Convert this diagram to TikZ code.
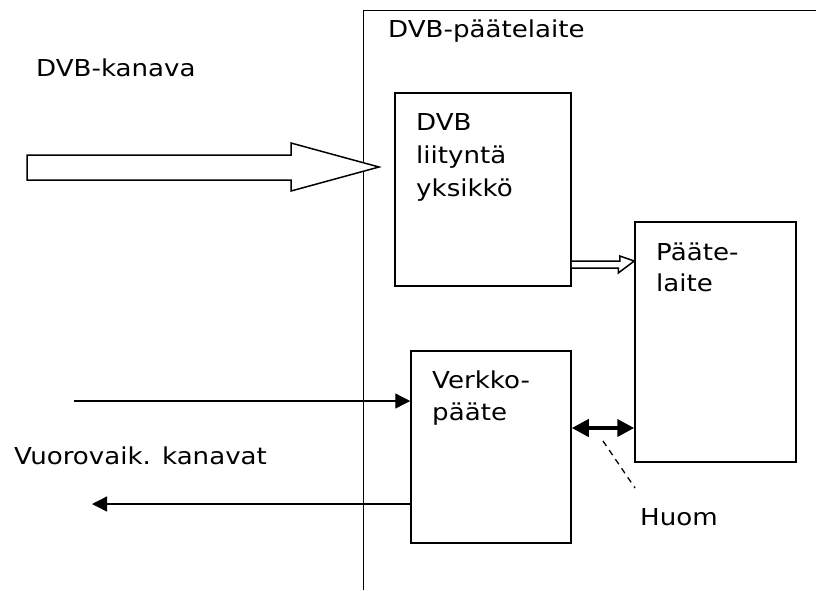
\documentclass[tikz,border=0pt]{standalone}
\usepackage{fontspec}
\setmainfont{DejaVu Sans}[FakeStretch=1.12]
\usetikzlibrary{arrows.meta,calc}
\begin{document}
\begin{tikzpicture}[x=1pt,y=-1pt,
  box/.style={draw,line width=1.5pt,rectangle,inner sep=0pt},
  txt/.style={anchor=base west,inner sep=0pt,font=\fontsize{23.3}{28}\selectfont},
  hollow/.style={draw,line width=1.5pt,fill=white,line join=miter},
  thin/.style={line width=1.3pt},
  tip/.style={-{Triangle[length=15pt,width=15pt]}},
  dbltip/.style={line width=4pt,{Triangle[length=17pt,width=17pt]}-{Triangle[length=17pt,width=17pt]}},
  note/.style={line width=1.3pt,dash pattern=on 6pt off 5pt}]
\useasboundingbox (0,0) rectangle (816,590);

% outer terminal frame (continues past the page edges)
\coordinate (frameB) at (363,590);
\coordinate (frameTL) at (363,10);
\coordinate (frameTR) at (816,10);
\draw[line width=1pt] (frameB) -- (frameTL) -- (frameTR);
\node[txt] (frametitle) at (388,37) {DVB-päätelaite};

% blocks
\node[box,minimum width=176pt,minimum height=193pt] (dvb) at (483,189.5) {};
\node[box,minimum width=161pt,minimum height=240pt] (term) at (715.5,342) {};
\node[box,minimum width=160pt,minimum height=192pt] (net) at (491,447) {};

\node[txt] (dvbA) at (416,130) {DVB};
\node[txt] (dvbB) at (416,163) {liityntä};
\node[txt] (dvbC) at (416,196) {yksikkö};
\node[txt] (termA) at (656,260) {Pääte-};
\node[txt] (termB) at (656,291) {laite};
\node[txt] (netA) at (432,388) {Verkko-};
\node[txt] (netB) at (432,420) {pääte};

% broadcast channel
\node[txt] (chan) at (36,76) {DVB-kanava};
\draw[hollow] (27,155) -- (291,155) -- (291,143) -- (379,167) -- (291,191)
  -- (291,180) -- (27,180) -- cycle;

% data from the DVB interface unit to the terminal
\draw[hollow] ($(dvb.east|-term.west)+(0,-81)$) -- ++(48,0) -- ++(0,-5)
  -- ($(term.west)+(0,-81)$) -- ++(-16,12) -- ++(0,-5) -- ($(dvb.east|-term.west)+(0,-74)$);

% interaction channels
\node[txt] (ichan) at (14,464) {Vuorovaik. kanavat};
\coordinate (inS) at (74,401);
\draw[thin,tip] (inS) -- (inS -| net.west);
\coordinate (outE) at (92,504);
\draw[thin,tip] (outE -| net.west) -- (outE);

% link between network terminal and terminal
\coordinate (lnk) at (0,428);
\draw[dbltip] (lnk -| net.east) -- (lnk -| term.west);
\node[txt] (huom) at (640,525) {Huom};
\coordinate (huomA) at (603,441);
\coordinate (huomB) at (635,488);
\draw[note] (huomA) -- (huomB);
\end{tikzpicture}
\end{document}
